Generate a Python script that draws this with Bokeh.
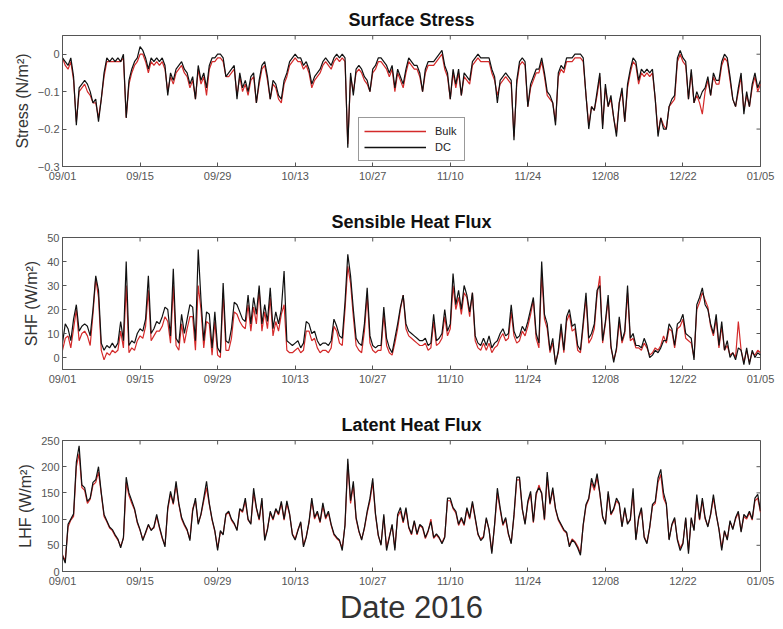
import numpy as np
from bokeh.plotting import figure
from bokeh.models import FixedTicker, Legend, LegendItem, Range1d
from bokeh.layouts import column
from bokeh.embed import file_html
from bokeh.resources import INLINE

# sample times: days since 2016-09-01, every 12 h
days = np.arange(0, 126.25, 0.5)

date_ticks = [0, 14, 28, 42, 56, 70, 84, 98, 112, 126]
date_labels = ["09/01", "09/15", "09/29", "10/13", "10/27", "11/10", "11/24", "12/08", "12/22", "01/05"]

stress_dc = [
    -0.01,-0.02,-0.03,-0.01,-0.06,-0.19,-0.09,-0.08,-0.07,-0.08,-0.10,-0.13,-0.12,-0.18,-0.12,-0.05,
    -0.01,-0.02,-0.01,-0.02,-0.01,-0.02,0.00,-0.17,-0.07,-0.04,-0.02,-0.01,0.02,0.01,-0.01,-0.04,
    -0.01,-0.02,-0.01,-0.02,-0.01,-0.03,-0.11,-0.05,-0.07,-0.04,-0.03,-0.02,-0.04,-0.05,-0.08,-0.06,
    -0.12,-0.03,-0.07,-0.05,-0.09,-0.03,-0.01,-0.01,0.00,0.00,-0.01,-0.06,-0.05,-0.04,-0.03,-0.12,
    -0.05,-0.09,-0.07,-0.10,-0.06,-0.05,-0.13,-0.07,-0.03,-0.02,-0.06,-0.12,-0.07,-0.08,-0.11,-0.12,
    -0.07,-0.05,-0.02,-0.01,0.00,-0.01,-0.01,-0.03,-0.02,-0.04,-0.08,-0.06,-0.05,-0.04,-0.02,-0.01,
    -0.02,-0.03,-0.01,0.00,-0.01,0.00,-0.01,-0.25,-0.05,-0.11,-0.04,-0.03,-0.04,-0.06,-0.07,-0.10,
    -0.04,-0.03,-0.01,-0.01,-0.02,-0.03,-0.05,-0.03,-0.09,-0.04,-0.06,-0.08,-0.04,-0.01,-0.02,-0.03,
    -0.03,-0.05,-0.10,-0.04,-0.02,-0.02,-0.02,-0.01,0.00,0.01,-0.03,-0.05,-0.12,-0.04,-0.08,-0.04,
    -0.11,-0.05,-0.06,-0.07,-0.02,-0.01,0.00,-0.01,-0.01,-0.01,-0.01,-0.04,-0.06,-0.13,-0.07,-0.06,
    -0.05,-0.06,-0.07,-0.23,-0.07,-0.02,-0.01,-0.02,-0.14,-0.08,-0.06,-0.04,-0.04,-0.01,-0.05,-0.10,
    -0.11,-0.13,-0.19,-0.05,-0.03,-0.04,-0.01,-0.01,-0.01,0.00,0.00,0.00,-0.01,-0.11,-0.20,-0.14,
    -0.15,-0.10,-0.05,-0.20,-0.08,-0.14,-0.11,-0.17,-0.22,-0.13,-0.09,-0.18,-0.08,-0.04,-0.01,-0.02,
    -0.07,-0.04,-0.05,-0.04,-0.05,-0.04,-0.12,-0.22,-0.17,-0.20,-0.20,-0.14,-0.12,-0.11,-0.01,0.01,
    -0.01,-0.02,-0.12,-0.04,-0.13,-0.10,-0.12,-0.10,-0.09,-0.06,-0.11,-0.05,-0.07,-0.07,-0.02,0.00,
    -0.01,-0.06,-0.12,-0.14,-0.09,-0.05,-0.16,-0.10,-0.14,-0.08,-0.05,-0.09,-0.07,
]
stress_bulk = [
    -0.01,-0.03,-0.04,-0.02,-0.07,-0.18,-0.10,-0.09,-0.08,-0.10,-0.11,-0.13,-0.13,-0.17,-0.12,-0.06,
    -0.02,-0.02,-0.02,-0.02,-0.02,-0.02,-0.01,-0.17,-0.08,-0.05,-0.03,-0.02,0.00,0.00,-0.02,-0.05,
    -0.02,-0.03,-0.02,-0.03,-0.02,-0.04,-0.10,-0.06,-0.08,-0.05,-0.04,-0.03,-0.05,-0.06,-0.09,-0.07,
    -0.12,-0.04,-0.08,-0.06,-0.11,-0.04,-0.02,-0.02,-0.01,-0.01,-0.02,-0.06,-0.06,-0.05,-0.04,-0.11,
    -0.06,-0.10,-0.08,-0.11,-0.07,-0.06,-0.13,-0.08,-0.04,-0.03,-0.07,-0.12,-0.08,-0.09,-0.12,-0.13,
    -0.08,-0.06,-0.03,-0.02,-0.01,-0.02,-0.02,-0.04,-0.03,-0.05,-0.09,-0.07,-0.06,-0.05,-0.03,-0.02,
    -0.03,-0.04,-0.02,-0.01,-0.02,-0.01,-0.02,-0.24,-0.06,-0.10,-0.05,-0.04,-0.05,-0.07,-0.08,-0.10,
    -0.05,-0.04,-0.02,-0.02,-0.03,-0.04,-0.06,-0.04,-0.10,-0.05,-0.07,-0.09,-0.05,-0.02,-0.03,-0.04,
    -0.04,-0.06,-0.10,-0.05,-0.03,-0.03,-0.03,-0.02,-0.01,0.00,-0.04,-0.06,-0.12,-0.05,-0.09,-0.05,
    -0.11,-0.06,-0.07,-0.08,-0.03,-0.02,-0.01,-0.02,-0.02,-0.02,-0.02,-0.05,-0.07,-0.11,-0.08,-0.07,
    -0.06,-0.07,-0.08,-0.22,-0.08,-0.03,-0.02,-0.03,-0.14,-0.09,-0.07,-0.05,-0.05,-0.02,-0.06,-0.11,
    -0.12,-0.13,-0.18,-0.06,-0.04,-0.05,-0.02,-0.02,-0.02,-0.01,-0.01,-0.01,-0.02,-0.11,-0.19,-0.14,
    -0.15,-0.11,-0.06,-0.19,-0.09,-0.14,-0.12,-0.17,-0.21,-0.13,-0.10,-0.18,-0.09,-0.05,-0.02,-0.03,
    -0.08,-0.05,-0.06,-0.05,-0.06,-0.05,-0.12,-0.21,-0.17,-0.19,-0.20,-0.14,-0.13,-0.12,-0.02,0.00,
    -0.02,-0.03,-0.12,-0.05,-0.13,-0.11,-0.13,-0.16,-0.10,-0.07,-0.11,-0.06,-0.08,-0.08,-0.03,-0.01,
    -0.02,-0.07,-0.12,-0.14,-0.10,-0.06,-0.15,-0.11,-0.14,-0.09,-0.06,-0.10,-0.08,
]

shf_dc = [
    6,14,12,7,16,22,11,13,14,13,9,20,34,28,6,3,
    5,4,6,4,6,15,7,40,5,7,6,10,12,11,16,34,
    10,12,15,14,17,21,20,9,37,8,6,18,10,16,22,21,
    7,45,24,7,19,18,4,19,4,2,31,7,6,12,23,22,
    19,16,15,26,14,25,18,30,14,22,15,29,12,19,14,20,
    36,7,6,5,6,7,4,6,15,14,10,11,7,5,6,6,
    5,7,16,13,9,8,23,43,34,20,8,6,5,14,29,9,
    5,4,5,5,21,8,4,2,8,14,21,26,14,11,10,9,
    8,7,7,8,5,6,18,7,8,10,20,11,14,35,22,28,
    20,30,26,19,27,9,6,5,8,5,9,4,6,7,10,12,
    9,10,22,11,8,9,13,11,15,20,25,10,6,40,18,14,
    3,8,-3,3,14,3,17,20,13,14,5,3,15,27,8,10,
    14,28,30,7,15,26,5,-2,4,17,7,11,30,8,10,5,
    5,4,8,5,0,1,3,2,4,7,7,14,12,5,14,15,
    18,10,9,8,-1,22,25,29,22,20,14,10,18,5,15,3,
    7,0,2,-1,4,3,-3,4,-3,3,0,2,1,
]
shf_bulk = [
    3,8,9,4,12,20,7,10,11,9,5,18,33,25,3,-1,
    2,1,3,2,3,11,4,30,2,4,3,7,9,8,13,28,
    7,9,11,11,13,17,15,6,30,5,3,14,6,12,17,17,
    3,30,20,4,15,14,1,15,1,0,27,3,3,8,19,18,
    15,13,12,22,11,21,14,28,11,19,12,25,9,15,11,18,
    22,3,2,2,3,4,2,3,11,11,7,8,4,2,3,3,
    2,4,13,11,6,5,20,38,31,17,5,3,2,11,26,6,
    3,2,3,3,18,5,2,1,6,12,20,26,12,9,8,7,
    6,5,5,6,3,4,15,5,6,8,17,9,12,30,20,25,
    18,27,25,17,27,7,4,3,6,3,6,2,4,5,8,10,
    7,8,19,9,6,7,11,9,13,18,24,8,4,35,16,12,
    2,6,-2,2,12,2,15,18,11,12,3,2,13,25,6,8,
    12,26,34,6,14,24,4,-1,3,15,6,10,27,7,8,4,
    4,3,6,4,1,2,4,3,5,9,6,12,11,4,12,13,
    16,8,7,6,0,20,23,27,24,21,13,9,16,4,13,3,
    5,1,2,0,15,3,-2,3,-2,2,1,3,2,
]

lhf_dc = [
    30,16,90,100,110,209,240,165,160,134,140,170,175,200,150,109,
    97,85,80,70,62,45,65,180,150,135,120,95,80,59,75,90,
    78,85,109,85,65,47,122,153,130,172,130,103,90,80,59,115,
    140,90,110,140,172,130,100,78,40,78,70,110,115,100,92,78,
    120,115,140,100,90,159,122,100,140,59,80,115,100,120,110,134,
    100,135,110,70,60,78,95,47,65,95,140,103,115,95,131,103,
    115,90,72,65,60,40,90,215,135,172,103,78,60,84,115,140,
    178,110,70,50,109,40,65,90,40,109,122,95,122,85,72,97,
    72,90,85,65,78,95,65,72,65,53,65,140,140,122,115,90,
    103,90,122,103,134,103,72,59,65,103,80,34,90,159,122,90,
    103,72,53,109,180,180,120,90,134,153,95,150,160,150,100,190,
    130,160,120,100,90,80,75,47,60,55,45,31,90,128,140,178,
    160,187,150,105,90,153,110,120,140,130,85,122,90,100,159,60,
    103,122,65,53,85,128,134,178,195,150,130,60,90,103,60,40,
    53,103,34,103,78,147,100,140,103,85,110,147,110,80,40,78,
    60,97,80,103,115,75,109,103,115,100,140,147,115,
]
lhf_bulk = [
    32,20,85,98,105,200,225,160,155,130,138,165,170,190,148,105,
    95,83,78,68,60,48,63,170,145,130,118,93,78,62,73,88,
    80,83,105,83,63,50,118,148,128,165,128,100,88,78,62,120,
    135,92,108,135,160,128,98,76,45,75,72,108,113,98,90,80,
    118,113,135,98,92,150,120,98,135,62,82,112,98,118,108,130,
    98,130,108,72,62,80,93,50,67,93,135,100,112,93,125,100,
    112,88,70,63,58,45,88,205,130,165,100,76,62,82,112,135,
    170,108,68,52,105,45,67,88,45,105,115,93,118,83,70,95,
    70,88,83,63,76,100,63,70,63,55,67,135,135,120,112,88,
    100,88,118,100,130,100,70,62,67,100,80,38,88,150,118,88,
    100,70,55,105,175,175,118,92,130,148,93,145,165,148,98,180,
    128,155,118,98,88,78,73,50,62,57,48,35,88,125,138,170,
    155,180,148,103,92,148,108,118,135,128,87,118,92,98,150,62,
    100,118,67,55,83,125,130,170,185,140,128,62,88,100,62,45,
    55,100,40,100,80,140,98,135,100,87,108,140,108,82,45,76,
    62,95,82,100,112,77,105,100,112,98,135,140,113,
]

FONT = "Liberation Sans"
RED = "#d42a2a"
BLACK = "#111111"
AXIS_GRAY = "#555555"
X0, X1 = 0, 126
FRAME_W = 698


def style_axis(ax):
    ax.major_tick_in = 4
    ax.major_tick_out = 0
    ax.minor_tick_line_color = None
    ax.axis_line_color = AXIS_GRAY
    ax.major_tick_line_color = AXIS_GRAY
    ax.major_label_text_font = FONT
    ax.major_label_text_color = "#555555"
    ax.major_label_text_font_size = "11px"
    ax.major_label_standoff = 3


def panel(title, ylabel, y0, y1, yticks, ylabel_over, bulk, dc, top, frame_h, bottom, xlabel=None):
    p = figure(width=780, height=top + frame_h + bottom, output_backend="svg",
               toolbar_location=None,
               x_range=Range1d(X0, X1), y_range=Range1d(y0, y1),
               min_border_left=62, min_border_right=20, min_border_top=top,
               min_border_bottom=bottom)
    p.title.text = title
    p.title.align = "center"
    p.title.text_font = FONT
    p.title.text_font_style = "bold"
    p.title.text_font_size = "18px"
    p.title.text_color = "#111111"
    p.title.standoff = 11
    p.outline_line_color = AXIS_GRAY
    p.background_fill_color = "white"
    p.border_fill_color = "white"
    p.grid.visible = False

    p.xaxis.ticker = FixedTicker(ticks=date_ticks)
    p.xaxis.major_label_overrides = dict(zip(date_ticks, date_labels))
    p.yaxis.ticker = FixedTicker(ticks=yticks)
    p.yaxis.major_label_overrides = ylabel_over
    style_axis(p.xaxis[0])
    style_axis(p.yaxis[0])
    p.yaxis.axis_label = ylabel
    p.yaxis.axis_label_text_font = FONT
    p.yaxis.axis_label_text_font_style = "normal"
    p.yaxis.axis_label_text_font_size = "16px"
    p.yaxis.axis_label_text_color = "#333333"
    p.yaxis.axis_label_standoff = 4
    if xlabel:
        p.xaxis.axis_label = xlabel
        p.xaxis.axis_label_text_font = FONT
        p.xaxis.axis_label_text_font_style = "normal"
        p.xaxis.axis_label_text_font_size = "31px"
        p.xaxis.axis_label_text_color = "#333333"
        p.xaxis.axis_label_standoff = 0

    # inward box ticks on the top and right edges, derived from the axis ticks
    ty = (y1 - y0) * 4.0 / frame_h
    tx = (X1 - X0) * 4.0 / FRAME_W
    p.segment(x0=date_ticks, y0=[y1] * len(date_ticks), x1=date_ticks,
              y1=[y1 - ty] * len(date_ticks), line_color=AXIS_GRAY, line_width=1)
    p.segment(x0=[X1] * len(yticks), y0=yticks, x1=[X1 - tx] * len(yticks),
              y1=yticks, line_color=AXIS_GRAY, line_width=1)

    p.line(days, bulk, line_color=RED, line_width=1.2)
    p.line(days, dc, line_color=BLACK, line_width=1.2)
    return p


p1 = panel("Surface Stress", "Stress (N/m²)", -0.3, 0.05, [-0.3, -0.2, -0.1, 0],
           {0: "0"}, stress_bulk, stress_dc, 35, 131, 36)
# legend swatches (a single NaN point: nothing drawn in the plot area)
lb = p1.line(x=[np.nan], y=[np.nan], line_color=RED, line_width=1.6)
ld = p1.line(x=[np.nan], y=[np.nan], line_color=BLACK, line_width=1.6)
legend = Legend(items=[LegendItem(label="Bulk", renderers=[lb]),
                       LegendItem(label="DC", renderers=[ld])],
                location=(296, 5), orientation="vertical")
legend.label_text_font = FONT
legend.label_text_font_size = "11px"
legend.label_text_color = "#222222"
legend.glyph_width = 62
legend.glyph_height = 16
legend.label_height = 16
legend.label_width = 24
legend.label_standoff = 9
legend.padding = 5
legend.spacing = 0
legend.margin = 0
legend.border_line_color = "#333333"
legend.background_fill_color = "white"
p1.add_layout(legend, "center")

p2 = panel("Sensible Heat Flux", "SHF (W/m²)", -5, 50, [0, 10, 20, 30, 40, 50],
           {}, shf_bulk, shf_dc, 35, 132, 36)
p3 = panel("Latent Heat Flux", "LHF (W/m²)", 0, 250, [0, 50, 100, 150, 200, 250],
           {}, lhf_bulk, lhf_dc, 35, 132, 55, xlabel="Date 2016")

layout = column(p1, p2, p3, spacing=0)
open("out.html", "w").write(file_html(layout, INLINE))
